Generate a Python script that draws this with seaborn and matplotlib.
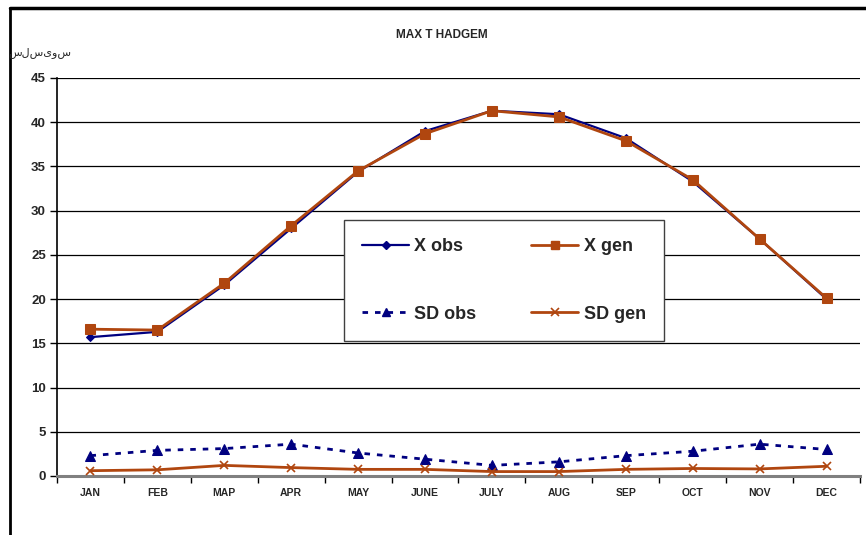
import numpy as np
import pandas as pd
import matplotlib
matplotlib.use("Agg")
import matplotlib.pyplot as plt
import seaborn as sns
from matplotlib.lines import Line2D

months = ["JAN", "FEB", "MAP", "APR", "MAY", "JUNE", "JULY", "AUG", "SEP", "OCT", "NOV", "DEC"]
x_obs = [15.7, 16.3, 21.6, 28.0, 34.4, 39.0, 41.3, 40.9, 38.2, 33.3, 26.8, 20.0]
x_gen = [16.6, 16.5, 21.8, 28.3, 34.5, 38.7, 41.3, 40.6, 37.9, 33.5, 26.8, 20.1]
sd_obs = [2.3, 2.9, 3.1, 3.6, 2.6, 1.9, 1.2, 1.6, 2.3, 2.8, 3.6, 3.0]
sd_gen = [0.6, 0.7, 1.2, 0.95, 0.75, 0.75, 0.5, 0.5, 0.75, 0.85, 0.8, 1.1]
y_ticks = [0, 5, 10, 15, 20, 25, 30, 35, 40, 45]
title = "MAX T HADGEM"
y_label = "سلسیوس"

sns.set_theme(style="white")
plt.rcParams['font.family'] = ['Liberation Sans', 'DejaVu Sans']

W, H = 866, 535
fig = plt.figure(figsize=(W / 100, H / 100), dpi=100)
ax = fig.add_axes([57 / W, 1 - 476 / H, (860 - 57) / W, (476 - 78) / H])

NAVY = "#000080"
BROWN = "#B0460F"
pos = np.arange(len(months))
DASH = (0, (2, 2.5))

sns.lineplot(x=pos, y=x_obs, ax=ax, color=NAVY, marker="D", markersize=4.5,
             markeredgecolor=NAVY, linewidth=1.6, label="X obs", zorder=4)
sns.lineplot(x=pos, y=x_gen, ax=ax, color=BROWN, marker="s", markersize=6.5,
             markeredgecolor=BROWN, linewidth=2.0, label="X gen", zorder=5)
sns.lineplot(x=pos, y=sd_obs, ax=ax, color=NAVY, marker="^", markersize=6.5,
             markeredgecolor=NAVY, linewidth=2.0, linestyle=DASH, label="SD obs", zorder=4)
sns.lineplot(x=pos, y=sd_gen, ax=ax, color=BROWN, marker="x", markersize=6,
             markeredgecolor=BROWN, markeredgewidth=1.2, linewidth=2.0, label="SD gen", zorder=5)

ax.set_xlim(-0.5, 11.5)
ax.set_ylim(0, 45)
ax.set_yticks(y_ticks)
ax.set_yticklabels([str(v) for v in y_ticks], fontsize=9.5, fontweight="bold")
ax.set_xticks(pos)
ax.set_xticklabels(months, fontsize=7.5, fontweight="bold")
ax.set_xticks(np.arange(-0.5, 12, 1), minor=True)
ax.tick_params(axis="x", which="major", length=0, pad=9)
ax.tick_params(axis="x", which="minor", length=5, width=1, color="black", direction="out", bottom=True)
ax.tick_params(axis="y", length=5, width=1, color="black", direction="out", left=True, pad=3)
for v in y_ticks[1:]:
    ax.axhline(v, color="black", linewidth=0.9, zorder=1)
for s in ["top", "right"]:
    ax.spines[s].set_visible(False)
ax.spines["left"].set_color("black")
ax.spines["left"].set_linewidth(1.2)
ax.spines["bottom"].set_color("#808080")
ax.spines["bottom"].set_linewidth(2.2)
ax.set_xlabel("")
ax.set_ylabel("")

h_xobs = Line2D([], [], color=NAVY, marker="D", markersize=4, linewidth=1.6)
h_xgen = Line2D([], [], color=BROWN, marker="s", markersize=6, linewidth=2.0)
h_sdobs = Line2D([], [], color=NAVY, marker="^", markersize=6, linewidth=2.0, linestyle=DASH)
h_sdgen = Line2D([], [], color=BROWN, marker="x", markersize=6, markeredgewidth=1.2, linewidth=2.0)
# ncol=2 fills column-wise: col 1 = X obs / SD obs, col 2 = X gen / SD gen
handles = [h_xobs, h_sdobs, h_xgen, h_sdgen]
labels = ["X obs", "SD obs", "X gen", "SD gen"]
leg = ax.legend(handles, labels, ncol=2, loc="center",
                bbox_to_anchor=(335 / W, 1 - 346 / H, 338 / W, 131 / H),
                bbox_transform=fig.transFigure, mode="expand",
                prop={"size": 13, "weight": "bold"}, frameon=True, fancybox=False,
                handlelength=2.6, handletextpad=0.3, labelspacing=2.8, borderpad=1.0,
                columnspacing=2.0, edgecolor="#404040")
leg.get_frame().set_linewidth(1.0)
leg.get_frame().set_facecolor("white")
leg.get_frame().set_alpha(1)
leg.set_zorder(10)

fig.text(442 / W, 1 - 35 / H, title, ha="center", va="center", fontsize=8.5, fontweight="bold")
fig.text(40 / W, 1 - 53 / H, y_label, ha="center", va="center", fontsize=8,
         family=["Noto Sans", "DejaVu Sans"])

# outer frame
fig.add_artist(Line2D([10 / W, 1.0], [1 - 7.5 / H, 1 - 7.5 / H], transform=fig.transFigure,
                      color="black", linewidth=2.5))
fig.add_artist(Line2D([10 / W, 10 / W], [1 - 7.5 / H, 0.0], transform=fig.transFigure,
                      color="black", linewidth=2.0))

fig.savefig("out.png", dpi=100, facecolor="white")
